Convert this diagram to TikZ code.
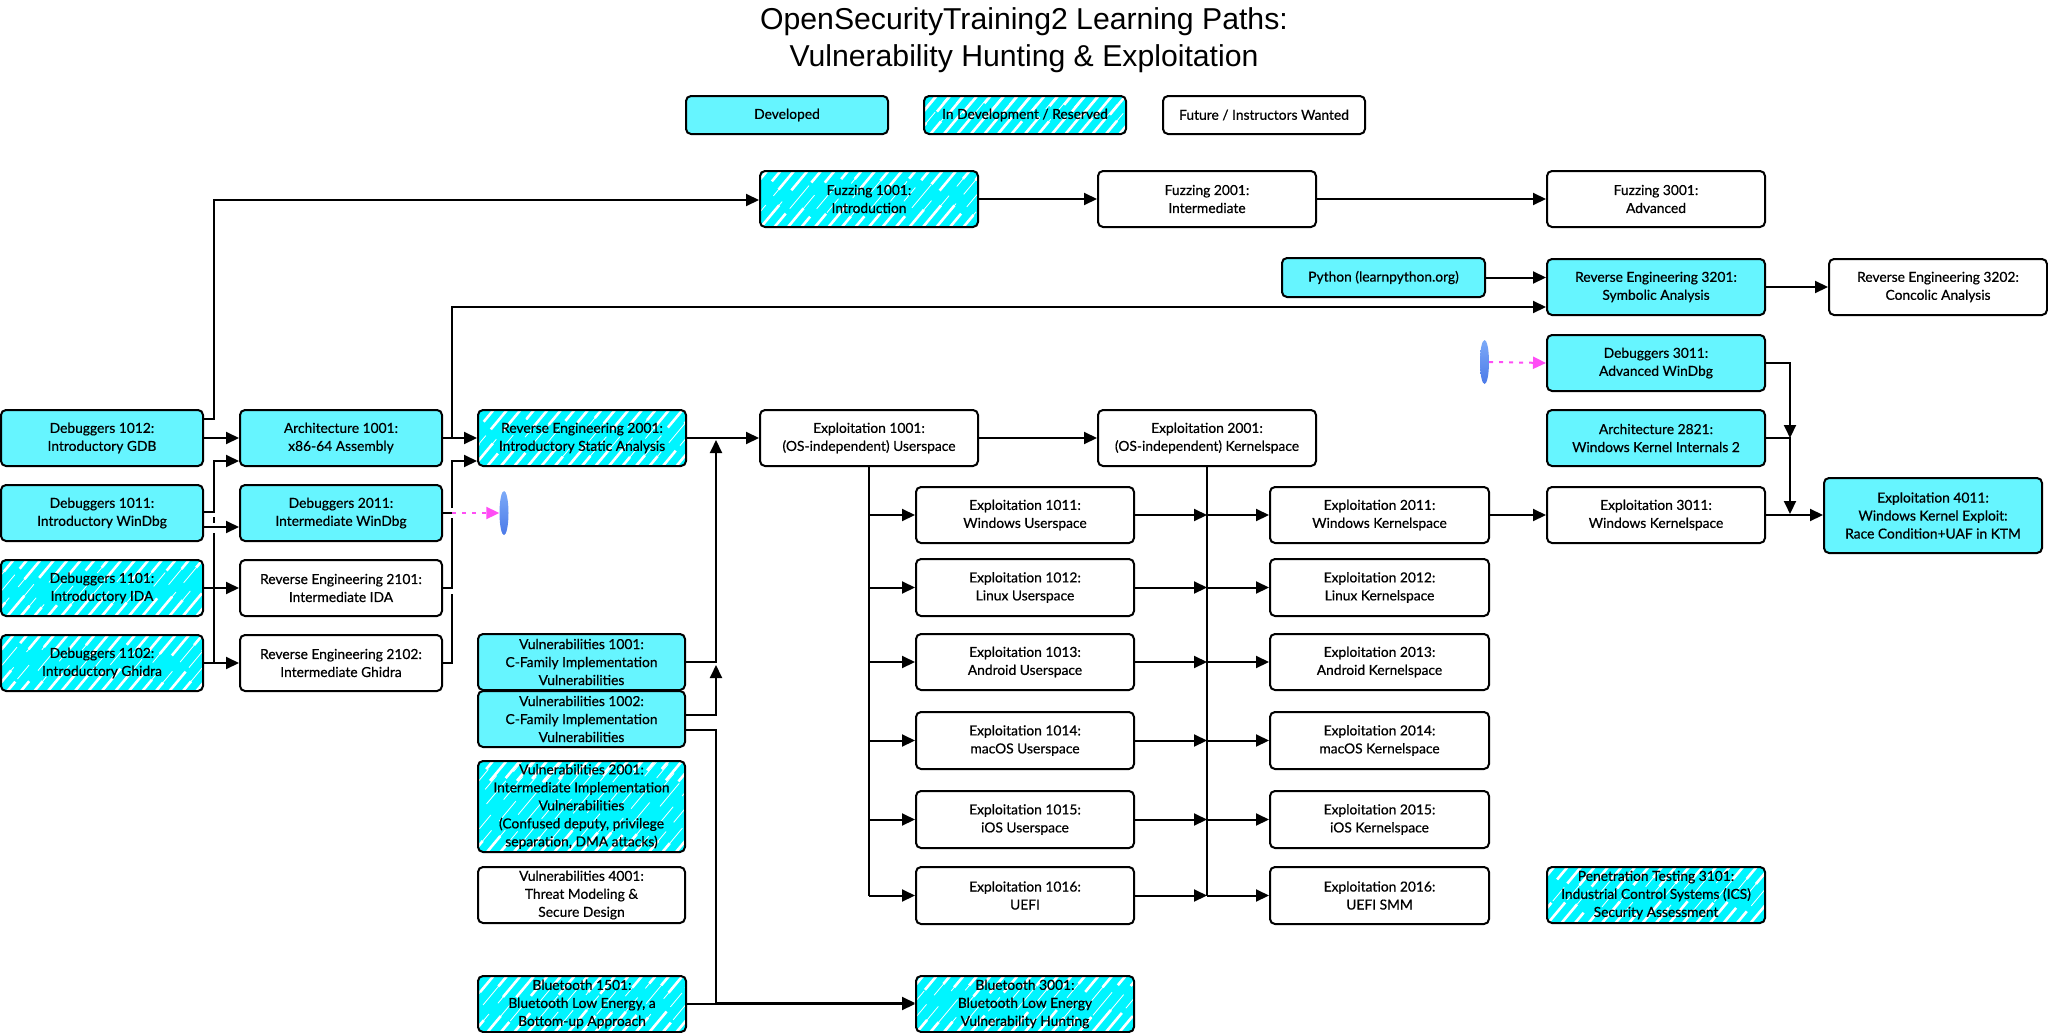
\documentclass[tikz,border=0pt]{standalone}
\usepackage{fontspec}
\setmainfont[FakeBold=0.5]{Lato}
\newfontfamily\titlef{Liberation Sans}
\usetikzlibrary{arrows.meta,shapes.geometric,calc}
\definecolor{devcyan}{HTML}{66F5FF}
\definecolor{hatchcyan}{HTML}{00F5FF}
\definecolor{magline}{HTML}{FF4DF5}
\definecolor{ovaltop}{HTML}{7CAAF8}
\definecolor{ovalbot}{HTML}{4C7AE8}
\tikzset{
  box/.style={draw=black,line width=2pt,rounded corners=5pt,inner sep=0pt,align=center,
    font=\fontsize{13.8}{18}\selectfont,fill=white},
  dev/.style={box,fill=devcyan},
  fut/.style={box},
  hatched/.style={box,fill=hatchcyan,path picture={
    \coordinate (ppS) at (path picture bounding box.south);
    \coordinate (ppN) at (path picture bounding box.north);
    \foreach \i in {-16,...,16}{
      \pgfmathsetmacro\sx{\i*13.5}
      \pgfmathsetmacro\ph{rnd*90}
      \pgfmathsetmacro\la{7+rnd*12}
      \pgfmathsetmacro\lb{6+rnd*12}
      \draw[white,line width=0.8pt,dash pattern=on 26pt off 14pt on 18pt off 20pt on 30pt off 12pt,dash phase=\ph pt]
        ([xshift=\sx pt]ppS) -- ++(100,-120);
      \draw[white,line width=2.6pt] ([xshift=\sx pt]ppS) -- ++(\la,-1.2*\la);
      \draw[white,line width=2.6pt] ([xshift=\sx pt+6pt]ppN) -- ++(-\lb,1.2*\lb);
    }}},
  lnk/.style={draw=black,line width=2pt},
  arr/.style={lnk,-{Triangle[length=13pt,width=12pt]}},
  magarr/.style={draw=magline,line width=2pt,dash pattern=on 4pt off 6pt,-{Triangle[length=13pt,width=12pt,magline]}},
  oval/.style={ellipse,inner sep=0pt,minimum width=9pt,minimum height=44pt,top color=ovaltop,bottom color=ovalbot,draw=none}
}
\newcommand{\bx}[6]{%
  \pgfmathsetmacro\bxw{#5-#3}\pgfmathsetmacro\bxh{#6-#4}%
  \pgfmathsetmacro\bxx{(#3+#5)/2}\pgfmathsetmacro\bxy{(#4+#6)/2}%
  \node[#1,minimum width=\bxw pt,minimum height=\bxh pt] (#2) at (\bxx,\bxy)}
\begin{document}
\begin{tikzpicture}[x=1pt,y=-1pt]
\useasboundingbox (0,0) rectangle (2048,1033);
\pgfmathsetseed{4242}
\node[align=center,font=\titlef\fontsize{30.2}{36.5}\selectfont,inner sep=0pt] (title) at (1024,40)
  {OpenSecurityTraining2 Learning Paths:\\Vulnerability Hunting \& Exploitation};
% legend
\bx{dev}{Ldev}{686}{96}{888}{134}{Developed};
\bx{hatched}{Lhat}{924}{96}{1126}{134}{In Development / Reserved};
\bx{fut}{Lfut}{1163}{96}{1365}{134}{Future / Instructors Wanted};
% column 0
\bx{dev}{D1012}{1}{410}{203}{466}{Debuggers 1012:\\Introductory GDB};
\bx{dev}{D1011}{1}{485}{203}{541}{Debuggers 1011:\\Introductory WinDbg};
\bx{hatched}{D1101}{1}{560}{203}{616}{Debuggers 1101:\\Introductory IDA};
\bx{hatched}{D1102}{1}{635}{203}{691}{Debuggers 1102:\\Introductory Ghidra};
% column 1
\bx{dev}{A1001}{240}{410}{442}{466}{Architecture 1001:\\x86-64 Assembly};
\bx{dev}{D2011}{240}{485}{442}{541}{Debuggers 2011:\\Intermediate WinDbg};
\bx{fut}{R2101}{240}{560}{442}{616}{Reverse Engineering 2101:\\Intermediate IDA};
\bx{fut}{R2102}{240}{635}{442}{691}{Reverse Engineering 2102:\\Intermediate Ghidra};
% column 2
\bx{hatched}{R2001}{478}{410}{686}{466}{Reverse Engineering 2001:\\Introductory Static Analysis};
\bx{dev}{V1001}{478}{634}{685}{690}{Vulnerabilities 1001:\\C-Family Implementation\\Vulnerabilities};
\bx{dev}{V1002}{478}{691}{685}{747}{Vulnerabilities 1002:\\C-Family Implementation\\Vulnerabilities};
\bx{hatched}{V2001}{478}{761}{685}{852}{Vulnerabilities 2001:\\Intermediate Implementation\\Vulnerabilities\\(Confused deputy, privilege\\separation, DMA attacks)};
\bx{fut}{V4001}{478}{867}{685}{923}{Vulnerabilities 4001:\\Threat Modeling \&\\Secure Design};
\bx{hatched}{B1501}{478}{976}{686}{1032}{Bluetooth 1501:\\Bluetooth Low Energy, a\\Bottom-up Approach};
% top row
\bx{hatched}{F1001}{760}{171}{978}{227}{Fuzzing 1001:\\Introduction};
\bx{fut}{F2001}{1098}{171}{1316}{227}{Fuzzing 2001:\\Intermediate};
\bx{fut}{F3001}{1547}{171}{1765}{227}{Fuzzing 3001:\\Advanced};
\bx{dev}{Py}{1282}{258}{1485}{297}{Python (learnpython.org)};
\bx{dev}{R3201}{1547}{259}{1765}{315}{Reverse Engineering 3201:\\Symbolic Analysis};
\bx{fut}{R3202}{1829}{259}{2047}{315}{Reverse Engineering 3202:\\Concolic Analysis};
\bx{dev}{D3011}{1547}{335}{1765}{391}{Debuggers 3011:\\Advanced WinDbg};
\bx{dev}{A2821}{1547}{410}{1765}{466}{Architecture 2821:\\Windows Kernel Internals 2};
% exploitation
\bx{fut}{E1001}{760}{410}{978}{466}{Exploitation 1001:\\(OS-independent) Userspace};
\bx{fut}{E2001}{1098}{410}{1316}{466}{Exploitation 2001:\\(OS-independent) Kernelspace};
\bx{fut}{E1011}{916}{487}{1134}{543}{Exploitation 1011:\\Windows Userspace};
\bx{fut}{E1012}{916}{559}{1134}{616}{Exploitation 1012:\\Linux Userspace};
\bx{fut}{E1013}{916}{634}{1134}{690}{Exploitation 1013:\\Android Userspace};
\bx{fut}{E1014}{916}{712}{1134}{769}{Exploitation 1014:\\macOS Userspace};
\bx{fut}{E1015}{916}{791}{1134}{848}{Exploitation 1015:\\iOS Userspace};
\bx{fut}{E1016}{916}{867}{1134}{924}{Exploitation 1016:\\UEFI};
\bx{fut}{K2011}{1270}{487}{1489}{543}{Exploitation 2011:\\Windows Kernelspace};
\bx{fut}{K2012}{1270}{559}{1489}{616}{Exploitation 2012:\\Linux Kernelspace};
\bx{fut}{K2013}{1270}{634}{1489}{690}{Exploitation 2013:\\Android Kernelspace};
\bx{fut}{K2014}{1270}{712}{1489}{769}{Exploitation 2014:\\macOS Kernelspace};
\bx{fut}{K2015}{1270}{791}{1489}{848}{Exploitation 2015:\\iOS Kernelspace};
\bx{fut}{K2016}{1270}{867}{1489}{924}{Exploitation 2016:\\UEFI SMM};
\bx{fut}{X3011}{1547}{487}{1765}{543}{Exploitation 3011:\\Windows Kernelspace};
\bx{dev}{X4011}{1824}{478}{2042}{553}{Exploitation 4011:\\Windows Kernel Exploit:\\Race Condition+UAF in KTM};
\bx{hatched}{P3101}{1547}{867}{1765}{923}{Penetration Testing 3101:\\Industrial Control Systems (ICS)\\Security Assessment};
\bx{hatched}{B3001}{916}{976}{1134}{1032}{Bluetooth 3001:\\Bluetooth Low Energy\\Vulnerability Hunting};
% ovals
\node[oval] (O1) at (504,513) {};
\node[oval] (O2) at (1484.5,362) {};
% free corners of the connectors
\coordinate (cL) at (214,466);
\coordinate (cR) at (452,466);
\coordinate (cV) at (716,466);
\coordinate (cK) at (1790,466);
\coordinate (busA) at (869,466);
\coordinate (busB) at (1207,466);
% left fan
\draw[arr] (D1012.east |- 0,419) -- (cL |- 0,419) -- (cL |- 0,200) -- (F1001.west |- 0,200);
\draw[arr] (D1012.east) -- (A1001.west);
\draw[arr] (D1011.east |- 0,512) -- (cL |- 0,512) -- (cL |- 0,461) -- (A1001.west |- 0,461);
\draw[arr] (D1011.east |- 0,527) -- (D2011.west |- 0,527);
\draw[arr] (D1101.east) -- (R2101.west);
\draw[arr] (D1102.east) -- (R2102.west);
\draw[lnk] (cL |- D1102.east) -- (cL |- 0,533);
\draw[lnk] (cL |- 0,523) -- (cL |- 0,517);
% middle fan
\draw[arr] (A1001.east) -- (R2001.west);
\draw[arr] (A1001.east) -- (cR |- A1001.east) -- (cR |- 0,307) -- (R3201.west |- 0,307);
\draw[arr] (R2101.east) -- (cR |- R2101.east) -- (cR |- 0,518) (cR |- 0,508) -- (cR |- 0,461) -- (R2001.west |- 0,461);
\draw[lnk] (R2102.east) -- (cR |- R2102.east) -- (cR |- 0,594);
\draw[lnk] (D2011.east |- 0,513) -- (cR |- 0,513);
\draw[magarr] (cR |- 0,513) -- (O1.west);
% centre
\draw[arr] (R2001.east) -- (E1001.west);
\draw[arr] (V1001.east) -- (cV |- V1001.east) -- (cV |- 0,440);
\draw[arr] (V1002.east |- 0,715) -- (cV |- 0,715) -- (cV |- 0,665);
\draw[arr] (V1002.east |- 0,730) -- (cV |- 0,730) -- (cV |- 0,1003) -- (B3001.west |- 0,1003);
\draw[arr] (B1501.east) -- (B3001.west);
% top
\draw[arr] (F1001.east) -- (F2001.west);
\draw[arr] (F2001.east) -- (F3001.west);
\draw[arr] (Py.east) -- (R3201.west |- Py.east);
\draw[arr] (R3201.east) -- (R3202.west);
\draw[magarr] (O2.east) -- (D3011.west);
% exploitation
\draw[arr] (E1001.east) -- (E2001.west);
\draw[lnk] (busA |- E1001.south) -- (busA |- E1016.west);
\draw[lnk] (busB |- E2001.south) -- (busB |- K2016.west);
\foreach \n in {1011,1012,1013,1014,1015,1016}{
  \draw[arr] (busA |- E\n.west) -- (E\n.west);
}
\foreach \n/\k in {1011/2011,1012/2012,1013/2013,1014/2014,1015/2015,1016/2016}{
  \draw[arr] (E\n.east) -- (busB |- E\n.east);
  \draw[arr] (busB |- K\k.west) -- (K\k.west);
}
\draw[arr] (K2011.east) -- (X3011.west);
\draw[arr] (X3011.east) -- (X4011.west |- X3011.east);
\draw[arr] (D3011.east) -- (cK |- D3011.east) -- (cK |- 0,438);
\draw[arr] (A2821.east) -- (cK |- A2821.east) -- (cK |- 0,514);
\end{tikzpicture}
\end{document}
